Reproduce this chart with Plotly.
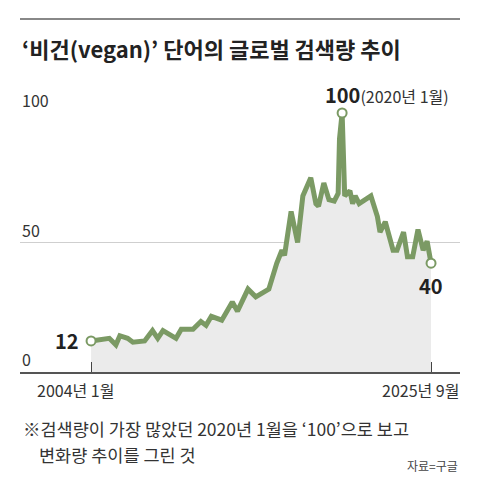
import numpy as np
import pandas as pd
import plotly.graph_objs as go

# 구글 트렌드 'vegan' 검색량 (2020년 1월 = 100), 그림에서 읽은 값
months = ["2004-01", "2005-03", "2005-08", "2005-11", "2006-05", "2006-09",
          "2007-06", "2007-12", "2008-04", "2008-08", "2009-06", "2009-10",
          "2010-07", "2011-01", "2011-05", "2011-09", "2012-05", "2013-01",
          "2013-05", "2014-01", "2014-07", "2015-05", "2015-11", "2016-03",
          "2016-05", "2016-10", "2017-03", "2017-07", "2018-01", "2018-05",
          "2018-07", "2018-11", "2019-03", "2019-07", "2019-10", "2019-11",
          "2020-01", "2020-03", "2020-07", "2020-09", "2020-11", "2021-02",
          "2021-11", "2022-04", "2022-06", "2022-10", "2023-04", "2023-07",
          "2023-12", "2024-03", "2024-07", "2024-11", "2025-03", "2025-06",
          "2025-09"]
values = [12, 13, 10.5, 14, 13, 11.5,
          12, 16, 13, 16, 13, 16.5,
          16.5, 19.5, 18, 21.5, 20, 27,
          23.5, 32, 29, 32, 42, 47,
          45, 62, 50, 68, 75, 65,
          64, 73, 66.5, 66, 69, 90,
          100, 68, 70, 65, 68, 65,
          68, 60, 54, 58, 47, 47,
          54, 44.5, 44.5, 55, 47, 50.5,
          42]
y_ticks = [0, 50, 100]
x_tick_text = ["2004년 1월", "2025년 9월"]
title = "‘비건(vegan)’ 단어의 글로벌 검색량 추이"
note1 = "※검색량이 가장 많았던 2020년 1월을 ‘100’으로 보고"
note2 = "변화량 추이를 그린 것"
source = "자료=구글"

df = pd.DataFrame({"date": pd.to_datetime(months), "v": values})
i_peak = int(np.argmax(df.v))
marks = df.iloc[[0, i_peak, len(df) - 1]]

GREEN = "#7b9a64"
KR = "'Liberation Sans Narrow', 'Noto Sans CJK KR', sans-serif"

fig = go.Figure()
fig.add_trace(go.Scatter(
    x=df.date, y=df.v, mode="lines", fill="tozeroy",
    fillcolor="#ebebeb", line=dict(color=GREEN, width=5),
    cliponaxis=False, hoverinfo="skip"))
fig.add_trace(go.Scatter(
    x=marks.date, y=marks.v, mode="markers", cliponaxis=False,
    marker=dict(size=9, color="white", line=dict(color=GREEN, width=2))))

ann = []
ann.append(dict(x=0, y=1.251, xref="paper", yref="paper", xanchor="left",
                yanchor="middle", text=title, showarrow=False,
                font=dict(family="Noto Sans CJK KR", size=22, color="#222",
                          weight="bold")))
for t in y_ticks:
    ann.append(dict(x=0, y=t, xref="paper", yref="y", xanchor="left",
                    yanchor="middle", yshift=13, text=str(t), showarrow=False,
                    font=dict(family=KR, size=16, color="#333")))
# x축 라벨
ann.append(dict(x=df.date.iloc[0], y=0, yref="y", xanchor="center",
                yanchor="middle", xshift=-16, yshift=-18, text=x_tick_text[0],
                showarrow=False, font=dict(family=KR, size=16, color="#333")))
ann.append(dict(x=df.date.iloc[-1], y=0, yref="y", xanchor="center",
                yanchor="middle", xshift=-11, yshift=-18, text=x_tick_text[1],
                showarrow=False, font=dict(family=KR, size=16, color="#333")))
# 값 라벨
ann.append(dict(x=marks.date.iloc[0], y=marks.v.iloc[0], xanchor="right",
                yanchor="middle", xshift=-10, text="<b>%d</b>" % marks.v.iloc[0],
                showarrow=False, font=dict(family=KR, size=20, color="#222")))
ann.append(dict(x=marks.date.iloc[1], y=marks.v.iloc[1], xanchor="left",
                yanchor="middle", xshift=-19, yshift=19,
                text="<b>%d</b><span style='font-size:16px;color:#333'>(2020년 1월)</span>" % marks.v.iloc[1],
                showarrow=False, font=dict(family=KR, size=20, color="#222")))
ann.append(dict(x=marks.date.iloc[2], y=marks.v.iloc[2], xanchor="center",
                yanchor="middle", yshift=-22, text="<b>40</b>",
                showarrow=False, font=dict(family=KR, size=20, color="#222")))
# 주석
ann.append(dict(x=0, y=-0.219, xref="paper", yref="paper", xanchor="left",
                yanchor="middle", xshift=1, text=note1, showarrow=False,
                font=dict(family=KR, size=17.5, color="#333")))
ann.append(dict(x=0, y=-0.319, xref="paper", yref="paper", xanchor="left",
                yanchor="middle", xshift=17, text=note2, showarrow=False,
                font=dict(family=KR, size=17.5, color="#333")))
ann.append(dict(x=1, y=-0.362, xref="paper", yref="paper", xanchor="right",
                yanchor="middle", text=source, showarrow=False,
                font=dict(family=KR, size=12, color="#444")))

# 페이지 기본 여백(8px) 만큼 왼쪽/위 여백을 줄임
fig.update_layout(
    width=480, height=500,
    margin=dict(l=12, r=28, t=105, b=136),
    paper_bgcolor="white", plot_bgcolor="white",
    showlegend=False,
    annotations=ann,
    shapes=[dict(type="line", xref="paper", yref="paper", x0=0, x1=1,
                 y0=1.363, y1=1.363, layer="above",
                 line=dict(color="#888", width=2))],
    xaxis=dict(type="date", range=["1999-06-22", "2027-07-07"],
               showgrid=False, zeroline=False, showline=True,
               linecolor="#555", linewidth=1.5,
               tickvals=[df.date.iloc[0], df.date.iloc[-1]],
               ticks="inside", ticklen=10, tickcolor="#444", tickwidth=1,
               showticklabels=False),
    yaxis=dict(range=[0, 100], tickvals=y_ticks[1:], showticklabels=False,
               showgrid=True, gridcolor="#cfcfcf", gridwidth=1,
               zeroline=False, showline=False),
)

fig.write_html("out.html")
